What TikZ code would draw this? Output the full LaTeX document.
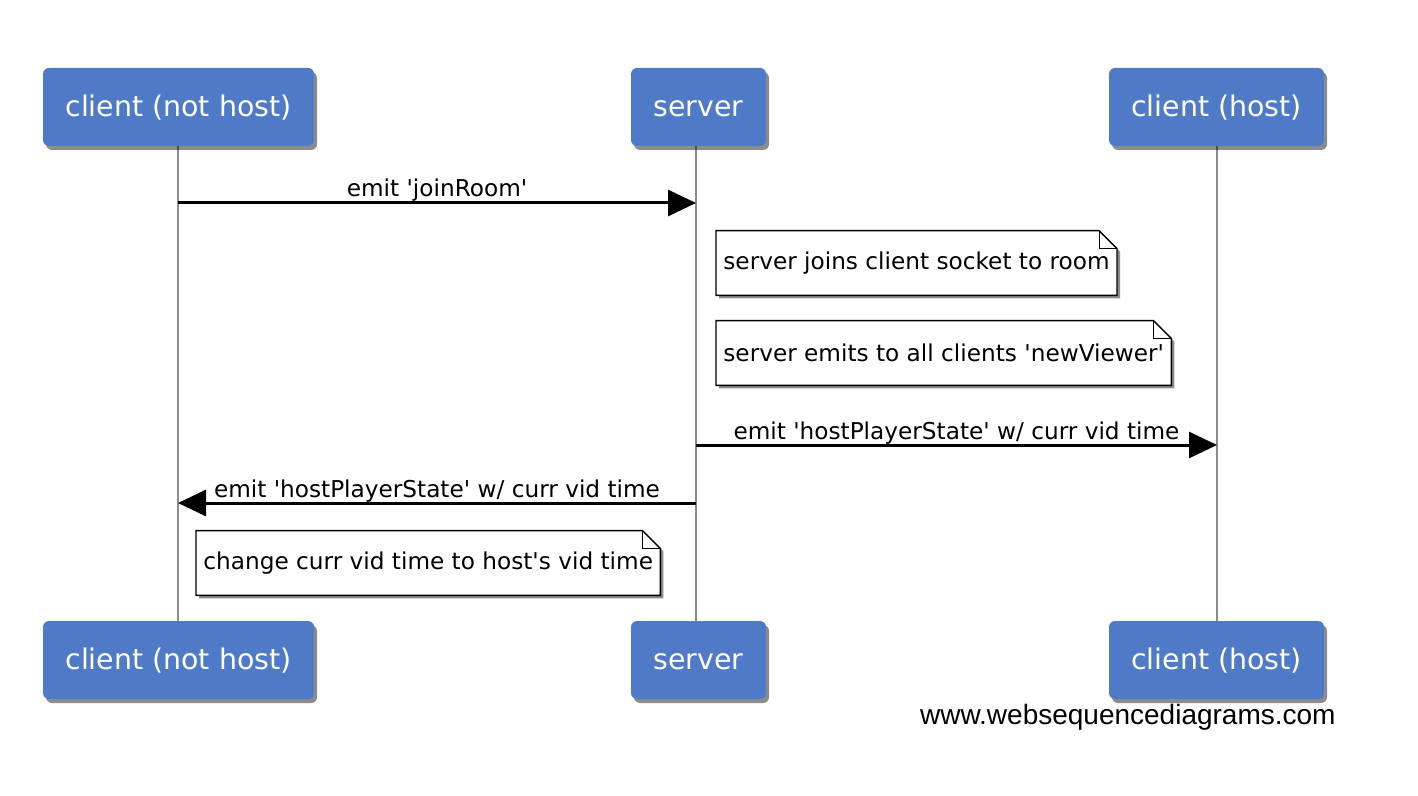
\documentclass[tikz,border=0pt]{standalone}
\usepackage{fontspec}
\setmainfont{DejaVu Sans}
\newfontfamily\wmfont{Liberation Sans}
\usetikzlibrary{arrows.meta,shadows,calc}
\pgfdeclarelayer{bg}
\pgfdeclarelayer{back}
\pgfsetlayers{back,bg,main}
\definecolor{boxblue}{RGB}{79,122,199}
\definecolor{lifegray}{RGB}{140,140,140}
\tikzset{
  participant/.style={fill=boxblue, rounded corners=3pt, text=white,
    font=\fontsize{14.2}{16}\selectfont, minimum height=39pt, inner sep=0pt,
    text height=1em, text depth=0.04em,
    drop shadow={shadow xshift=1.5pt, shadow yshift=-2pt, opacity=0.45, fill=black}},
  lifeline/.style={draw=lifegray, line width=1.1pt},
  msg/.style={line width=1.5pt, -{Triangle[length=14pt,width=13pt]}},
  msglabel/.style={font=\fontsize{11.6}{13}\selectfont, inner sep=0pt, anchor=base},
  notetext/.style={font=\fontsize{11.6}{13}\selectfont, anchor=west, inner xsep=3.5pt, minimum height=32pt, inner ysep=0pt},
  noteshape/.style={draw=black, line width=0.7pt, fill=white,
    drop shadow={shadow xshift=1.5pt, shadow yshift=-1.5pt, opacity=0.45, fill=black}},
  foldline/.style={draw=black, line width=0.5pt},
}
\newcommand{\notedraw}[1]{%
  \begin{pgfonlayer}{bg}
  \path[noteshape] (#1.north west) -- ([xshift=-9pt]#1.north east) -- ([yshift=-9pt]#1.north east) -- (#1.south east) -- (#1.south west) -- cycle;
  \draw[foldline] ([xshift=-9pt]#1.north east) -- ([xshift=-9pt,yshift=-9pt]#1.north east) -- ([yshift=-9pt]#1.north east);
  \end{pgfonlayer}}
\begin{document}
\begin{tikzpicture}[x=0.5pt,y=-0.5pt]
\begin{pgfonlayer}{back}
\fill[white] (0,0) rectangle (1418,796);
\end{pgfonlayer}
\useasboundingbox (0,0) rectangle (1418,796);
% participants
\node[participant, minimum width=135.5pt] (a1) at (178.5,107) {client (not host)};
\node[participant, minimum width=67.5pt] (b1) at (698.5,107) {server};
\node[participant, minimum width=107.5pt] (c1) at (1216.5,107) {client (host)};
\node[participant, minimum width=135.5pt] (a2) at (178.5,660) {client (not host)};
\node[participant, minimum width=67.5pt] (b2) at (698.5,660) {server};
\node[participant, minimum width=107.5pt] (c2) at (1216.5,660) {client (host)};
% lifelines
\coordinate (la1) at (178,146); \coordinate (la2) at (178,622);
\coordinate (lb1) at (696,146); \coordinate (lb2) at (696,622);
\coordinate (lc1) at (1217,146); \coordinate (lc2) at (1217,622);
\begin{pgfonlayer}{bg}
\draw[lifeline] (la1) -- (la2);
\draw[lifeline] (lb1) -- (lb2);
\draw[lifeline] (lc1) -- (lc2);
\end{pgfonlayer}
% message 1
\coordinate (m1s) at (178,203); \coordinate (m1e) at (696,203);
\draw[msg] (m1s) -- (m1e) node[msglabel, midway, yshift=3pt] (m1l) {emit \textquotesingle joinRoom\textquotesingle};
% notes
\node[notetext] (n1) at (716,263) {server joins client socket to room};
\notedraw{n1}
\node[notetext] (n2) at (716,353) {server emits to all clients \textquotesingle newViewer\textquotesingle};
\notedraw{n2}
% message 3
\coordinate (m3s) at (696,445); \coordinate (m3e) at (1217,445);
\draw[msg] (m3s) -- (m3e) node[msglabel, midway, yshift=3pt] (m3l) {emit \textquotesingle hostPlayerState\textquotesingle\ w/ curr vid time};
% message 4
\coordinate (m4s) at (696,503); \coordinate (m4e) at (178,503);
\draw[msg] (m4s) -- (m4e) node[msglabel, midway, yshift=3pt] (m4l) {emit \textquotesingle hostPlayerState\textquotesingle\ w/ curr vid time};
% note 3
\node[notetext] (n3) at (196,563) {change curr vid time to host\textquotesingle s vid time};
\notedraw{n3}
% watermark
\node[font=\wmfont\fontsize{14}{16}\selectfont, anchor=east, inner sep=0pt] (wm) at (1336,717) {www.websequencediagrams.com};
\end{tikzpicture}
\end{document}
